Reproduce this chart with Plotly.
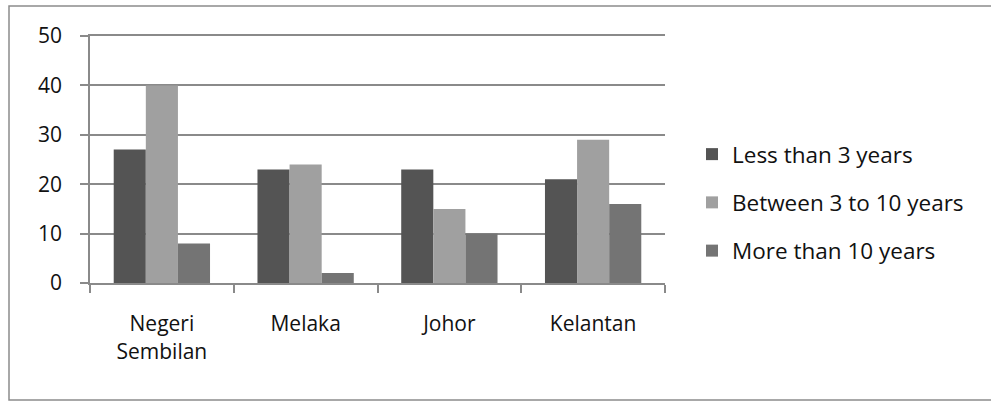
import plotly.graph_objects as go

# Survey counts by state and length of experience
states = ["Negeri<br>Sembilan", "Melaka", "Johor", "Kelantan"]
less_than_3 = [27, 23, 23, 21]
between_3_10 = [40, 24, 15, 29]
more_than_10 = [8, 2, 10, 16]
y_ticks = [0, 10, 20, 30, 40, 50]

series = [
    ("Less than 3 years", less_than_3, "#545454"),
    ("Between 3 to 10 years", between_3_10, "#a0a0a0"),
    ("More than 10 years", more_than_10, "#747474"),
]

fig = go.Figure()
for i, (name, vals, color) in enumerate(series):
    fig.add_trace(go.Bar(
        x=states, y=vals, name=name, legendgroup=str(i),
        marker=dict(color=color, line=dict(width=0)),
    ))

W, H = 991, 401
L, R, T, B = 90, 326, 36, 118
pw, ph = W - L - R, H - T - B

def px_x(x):
    return (x - L) / pw

def px_y(y):
    return (H - B - y) / ph

# outer chart frame
fig.add_shape(type="rect", xref="paper", yref="paper",
              x0=px_x(9), x1=px_x(1000), y0=px_y(400), y1=px_y(6),
              line=dict(color="#8c8c8c", width=1.5), fillcolor="rgba(0,0,0,0)")

font = "'Open Sans', sans-serif"
grey = "#8a8a8a"
fig.update_layout(
    width=W, height=H,
    margin=dict(l=L, r=R, t=T, b=B),
    paper_bgcolor="white", plot_bgcolor="white",
    barmode="group", bargap=0.33, bargroupgap=0,
    font=dict(family=font, size=21, color="#111111"),
    showlegend=True,
    legend=dict(x=px_x(692), xanchor="left", y=px_y(133), yanchor="top",
                font=dict(size=22.5), tracegroupgap=16,
                itemwidth=30, bgcolor="rgba(0,0,0,0)"),
    xaxis=dict(showline=True, linecolor=grey, linewidth=2, mirror=True,
               ticks="outside", tickson="boundaries", ticklen=8,
               tickcolor=grey, tickwidth=1.5, showgrid=False,
               ticklabelstandoff=21, tickfont=dict(size=21)),
    yaxis=dict(range=[0, 50], tickvals=y_ticks, showline=True,
               linecolor=grey, linewidth=1.5, showgrid=True,
               gridcolor=grey, gridwidth=2, ticks="outside",
               ticklen=8, tickcolor=grey, tickwidth=2,
               ticklabelstandoff=14,
               zeroline=False, tickfont=dict(size=21)),
)

fig.write_html("out.html")
